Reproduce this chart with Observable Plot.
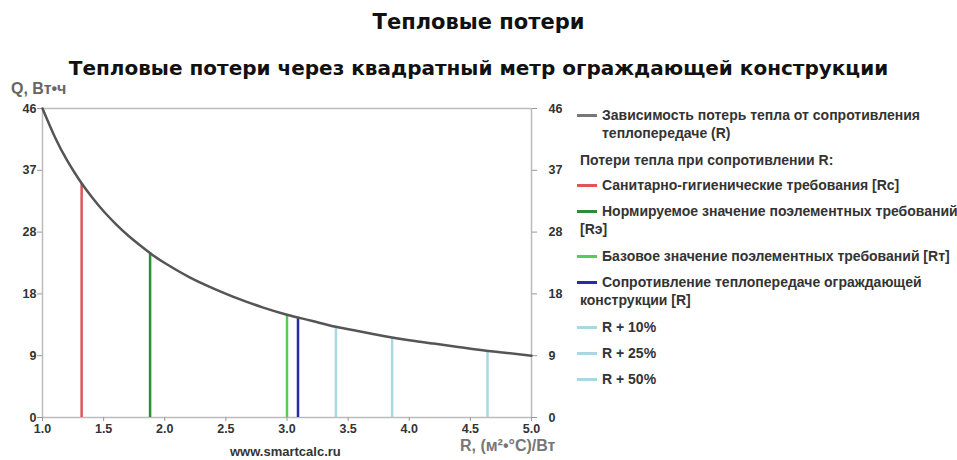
<!DOCTYPE html>
<html><head><meta charset="utf-8">
<script src="https://cdn.jsdelivr.net/npm/d3@7"></script>
<script src="https://cdn.jsdelivr.net/npm/@observablehq/plot@0.6"></script>
<style>
body{margin:0;background:#fff;}
#wrap{position:relative;width:957px;height:460px;overflow:hidden;font-family:"Liberation Sans",Arial,sans-serif;}
.t{position:absolute;white-space:nowrap;}
#title{left:0;width:957px;text-align:center;top:10px;font:bold 21px "DejaVu Sans",sans-serif;color:#111;}
#subtitle{left:0;width:957px;text-align:center;top:56px;font:bold 20px "DejaVu Sans",sans-serif;color:#111;}
#ylab{left:11px;top:80px;font-size:16px;font-weight:bold;color:#666;}
#xlab{left:460px;top:437px;font-size:16px;font-weight:bold;color:#777;}
#site{left:230px;top:444px;font-size:13px;line-height:15px;font-weight:bold;color:#333;}
#chart{position:absolute;left:0;top:80px;}
#legend{position:absolute;left:577px;top:106px;width:380px;font-size:14px;font-weight:bold;color:#333;}
.li{position:absolute;left:0;line-height:18px;white-space:nowrap;}
.sw{display:inline-block;width:20px;height:2.5px;vertical-align:middle;margin-right:5px;position:relative;top:-1px;}
</style></head>
<body><div id="wrap">
<div class="t" id="title">Тепловые потери</div>
<div class="t" id="subtitle">Тепловые потери через квадратный метр ограждающей конструкции</div>
<div class="t" id="ylab">Q, Вт•ч</div>
<div id="chart"></div>
<div class="t" id="xlab">R, (м²•°C)/Вт</div>
<div class="t" id="site">www.smartcalc.ru</div>
<div id="legend"></div>
</div>
<script>
// Curve: heat loss Q vs resistance R
const curveR = [1.0,1.1,1.2,1.3,1.4,1.5,1.6,1.7,1.8,1.9,2.0,2.2,2.4,2.6,2.8,3.0,3.2,3.4,3.6,3.8,4.0,4.2,4.4,4.6,4.8,5.0];
const curveQ = [46.0,41.8,38.3,35.4,32.9,30.7,28.8,27.1,25.6,24.2,23.0,20.9,19.2,17.7,16.4,15.3,14.4,13.5,12.8,12.1,11.5,11.0,10.5,10.0,9.6,9.2];

// Marker lines
const markerNames = ["Rc","Rэ","Rт","R","R + 10%","R + 25%","R + 50%"];
const markerR = [1.32,1.88,3.0,3.09,3.40,3.86,4.64];
const markerQ = [34.8,24.5,15.3,14.9,13.5,11.9,9.9];
const markerColors = ["#e25555","#2e8b3a","#55cc55","#2a2aa8","#a9d8e2","#a9d8e2","#a9d8e2"];

// Axes
const xTicks = [1.0,1.5,2.0,2.5,3.0,3.5,4.0,4.5,5.0];
const yTicks = [0,9.2,18.4,27.6,36.8,46];
const yTickLabels = ["0","9","18","28","37","46"];

// Legend
const legendItems = [
  {text:"Зависимость потерь тепла от сопротивления", color:"#777", y:0},
  {text:"теплопередаче (R)", color:null, y:18, indent:25},
  {text:"Потери тепла при сопротивлении R:", color:null, y:45, indent:3},
  {text:"Санитарно-гигиенические требования [Rc]", color:"#e25555", y:70},
  {text:"Нормируемое значение поэлементных требований", color:"#2e8b3a", y:96},
  {text:"[Rэ]", color:null, y:114, indent:3},
  {text:"Базовое значение поэлементных требований [Rт]", color:"#55cc55", y:141},
  {text:"Сопротивление теплопередаче ограждающей", color:"#2a2aa8", y:167},
  {text:"конструкции [R]", color:null, y:185, indent:3},
  {text:"R + 10%", color:"#a9d8e2", y:212},
  {text:"R + 25%", color:"#a9d8e2", y:238},
  {text:"R + 50%", color:"#a9d8e2", y:264}
];

const curve = curveR.map((r,i)=>({r, q:curveQ[i]}));
const markers = markerR.map((r,i)=>({name:markerNames[i], r, q:markerQ[i], c:markerColors[i]}));

const chart = Plot.plot({
  width: 580, height: 380,
  marginLeft: 42, marginRight: 49, marginTop: 28, marginBottom: 43,
  style:{fontFamily:"Liberation Sans, Arial, sans-serif", fontSize:"12px", fontWeight:"bold", color:"#333"},
  x:{domain:[1,5]},
  y:{domain:[0,46]},
  marks:[
    Plot.ruleY([46],{stroke:"#bbb",strokeWidth:1.5}),
    Plot.ruleY([0],{stroke:"#bbb",strokeWidth:1.5}),
    Plot.ruleX([1,5],{stroke:"#bbb",strokeWidth:1.5}),
    Plot.axisX({ticks:xTicks, tickFormat:d=>d.toFixed(1), tickSize:4, stroke:"#999", label:null, fontSize:12.5, fontWeight:"bold", tickPadding:3}),
    Plot.axisY({anchor:"left", ticks:yTicks, tickFormat:(d,i)=>yTickLabels[i], tickSize:5, stroke:"#999", label:null, fontSize:12.5, fontWeight:"bold", tickPadding:1}),
    Plot.axisY({anchor:"right", ticks:yTicks, tickFormat:(d,i)=>yTickLabels[i], tickSize:5, stroke:"#999", label:null, fontSize:12.5, fontWeight:"bold", tickPadding:12}),
    Plot.ruleX(markers,{x:"r", y1:0, y2:"q", stroke:"c", strokeWidth:2.5}),
    Plot.line(curve,{x:"r", y:"q", stroke:"#555", strokeWidth:2.5, curve:"natural"})
  ]
});
document.getElementById("chart").appendChild(chart);

const lg = document.getElementById("legend");
legendItems.forEach(it=>{
  const d = document.createElement("div");
  d.className="li";
  d.style.top = it.y+"px";
  if (it.color){
    const s=document.createElement("span");
    s.className="sw"; s.style.background=it.color;
    d.appendChild(s);
  } else {
    d.style.left = (it.indent||0)+"px";
  }
  d.appendChild(document.createTextNode(it.text));
  lg.appendChild(d);
});
</script>
</body></html>
